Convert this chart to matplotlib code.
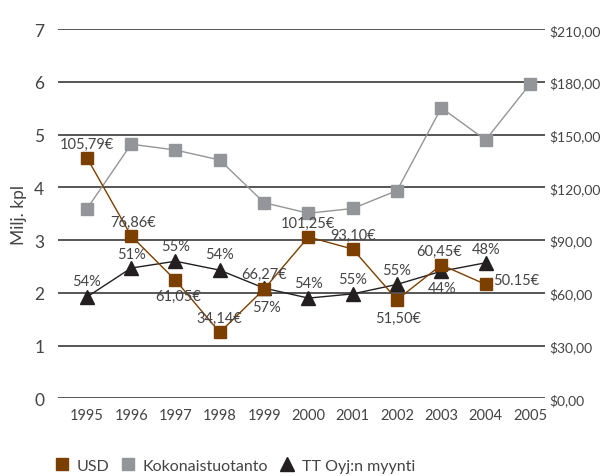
import matplotlib.pyplot as plt

years = [1995, 1996, 1997, 1998, 1999, 2000, 2001, 2002, 2003, 2004, 2005]

# USD (oikea akseli, $)
usd = [137.0, 92.4, 67.2, 37.5, 62.1, 91.8, 84.9, 56.1, 75.9, 64.8]
usd_labels = ["105,79€", "76,86€", "61,05€", "34,14€", "66,27€", "101,25€",
              "93,10€", "51,50€", "60,45€", "50.15€"]

# Kokonaistuotanto (milj. kpl)
koko = [3.59, 4.82, 4.71, 4.52, 3.71, 3.51, 3.60, 3.94, 5.51, 4.90, 5.96]

# TT Oyj:n myynti (milj. kpl)
tt = [1.92, 2.47, 2.60, 2.43, 2.09, 1.90, 1.98, 2.16, 2.41, 2.57]
tt_labels = ["54%", "51%", "55%", "54%", "57%", "54%", "55%", "55%", "44%", "48%"]

y_ticks = [0, 1, 2, 3, 4, 5, 6, 7]
usd_ticks = [0, 30, 60, 90, 120, 150, 180, 210]

plt.rcParams['font.family'] = ['Lato', 'DejaVu Sans']
txt = '#444444'
brown = '#7b3f00'
gray = '#939598'
black = '#231f20'

fig = plt.figure(figsize=(6.05, 4.77), dpi=100)
ax = fig.add_axes([0.0959, 0.163, 0.805, 0.7735])
ax2 = ax.twinx()

for y in y_ticks:
    ax.axhline(y, color='#3a3a3a', lw=1.2, zorder=0)

ax.plot(years, koko, color=gray, lw=1.0, marker='s', ms=8.5, mec=gray, mfc=gray,
        label='Kokonaistuotanto', zorder=3)
ax.plot(years[:len(tt)], tt, color=black, lw=1.0, marker='^', ms=10, mec=black, mfc=black,
        label='TT Oyj:n myynti', zorder=4)
ax2.plot(years[:len(usd)], usd, color=brown, lw=1.0, marker='s', ms=8.5, mec=brown, mfc=brown,
         label='USD', zorder=5)

ax.set_xlim(1994.35, 2005.34)
ax.set_ylim(0, 7)
ax2.set_ylim(0, 210)
ax.set_xticks(years)
ax.set_yticks(y_ticks)
ax2.set_yticks(usd_ticks)
ax2.set_yticklabels(["$%d,00" % v for v in usd_ticks])

for a in (ax, ax2):
    for s in a.spines.values():
        s.set_visible(False)
    a.tick_params(length=0, labelsize=10.5, colors=txt)
ax.tick_params(axis='y', pad=10, labelsize=12.5)
ax.tick_params(axis='x', pad=7)
ax2.tick_params(axis='y', pad=3, labelsize=10)
ax.set_ylabel('Milj. kpl', fontsize=12.5, color=txt, labelpad=5)

# datalabels
usd_off = [(0, 14), (2, 14), (3, -16), (0, 14), (0, 15), (0, 14),
           (0, 14), (1, -18), (-2, 14), (7, 4)]
for i, lab in enumerate(usd_labels):
    dx, dy = usd_off[i]
    ha = 'left' if i == len(usd_labels) - 1 else 'center'
    ax2.annotate(lab, (years[i], usd[i]), xytext=(dx, dy), textcoords='offset pixels',
                 ha=ha, va='center', fontsize=10.5, color=txt, zorder=6)

tt_off = [(0, 16), (0, 14), (0, 15), (0, 16), (2, -19), (0, 15),
          (0, 15), (0, 14), (1, -17), (0, 14)]
for i, lab in enumerate(tt_labels):
    dx, dy = tt_off[i]
    ax.annotate(lab, (years[i], tt[i]), xytext=(dx, dy), textcoords='offset pixels',
                ha='center', va='center', fontsize=10.5, color=txt, zorder=6)

h1, l1 = ax.get_legend_handles_labels()
h2, l2 = ax2.get_legend_handles_labels()
leg = fig.legend(h2 + h1, l2 + l1, loc='center left', bbox_to_anchor=(0.068, 0.022),
                 ncol=3, frameon=False, fontsize=11.5, handlelength=0.8,
                 handletextpad=0.5, columnspacing=0.8, labelcolor=txt)
for h in leg.legend_handles:
    h.set_linestyle('none')

fig.savefig('out.png', dpi=100)
